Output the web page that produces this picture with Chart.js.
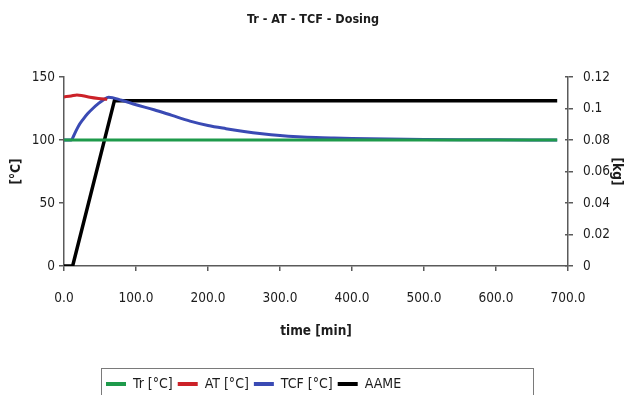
<!DOCTYPE html>
<html>
<head>
<meta charset="utf-8">
<script src="https://cdn.jsdelivr.net/npm/chart.js@4.4.1/dist/chart.umd.min.js"></script>
<style>
  html, body { margin: 0; padding: 0; background: #ffffff; }
  canvas { display: block; }
</style>
</head>
<body>
<canvas id="chart" width="626" height="395"></canvas>
<script>
// Text and labels
const chartTitle = 'Tr - AT - TCF - Dosing';
const xTitle = 'time [min]';
const yTitle = '[°C]';
const y2Title = '[kg]';
const seriesNames = ['Tr [°C]', 'AT [°C]', 'TCF [°C]', 'AAME'];
const seriesColors = ['#1e9a4b', '#cc2128', '#3a4ab4', '#000000'];

// Axis ticks
const xTickValues = [0, 100, 200, 300, 400, 500, 600, 700];
const xTickLabels = ['0.0', '100.0', '200.0', '300.0', '400.0', '500.0', '600.0', '700.0'];
const yTickValues = [0, 50, 100, 150];
const yTickLabels = ['0', '50', '100', '150'];
const y2TickValues = [0, 0.02, 0.04, 0.06, 0.08, 0.1, 0.12];
const y2TickLabels = ['0', '0.02', '0.04', '0.06', '0.08', '0.1', '0.12'];

// Series: reactor temperature Tr [°C]
const trTime = [0, 685];
const trValues = [100, 100];

// Series: AT [°C]
const atTime = [0, 10, 18, 26, 36, 48, 60];
const atValues = [134.2, 135.0, 135.8, 135.2, 134.0, 133.0, 132.3];

// Series: TCF [°C]
const tcfTime = [0, 10, 14, 20, 26, 33, 40, 48, 55, 62, 80, 100, 125, 150, 175, 200, 225, 250, 275, 300, 325, 350, 375, 400, 450, 500, 550, 600, 685];
const tcfValues = [100, 100, 104, 111, 116, 121, 125, 129, 132, 134, 131.5, 128, 124, 119.5, 115, 111.5, 109, 106.8, 105, 103.6, 102.6, 101.9, 101.5, 101.2, 100.7, 100.4, 100.2, 100.1, 100];

// Series: dosed AAME [kg]
const aameTime = [0, 12, 70, 685];
const aameValues = [0, 0, 0.105, 0.105];

const FONT = "'Liberation Sans Narrow', 'DejaVu Sans Condensed', 'Arial Narrow', sans-serif";
const TEXT = '#1c1c1c';
const AXIS = '#5a5a5a';

function points(xs, ys) {
  return xs.map((x, i) => ({ x: x, y: ys[i] }));
}
function fixedTicks(values) {
  return scale => { scale.ticks = values.map(v => ({ value: v })); };
}
function labelFor(values, labels) {
  return value => {
    const i = values.findIndex(v => Math.abs(v - value) < 1e-9);
    return i >= 0 ? labels[i] : '';
  };
}

// Frame around the legend row
const legendFrame = {
  id: 'legendFrame',
  afterLayout(chart) {
    const lg = chart.legend;
    lg.left = 101;
    lg.right = 533;
    lg.top = 372;
    lg.bottom = 400;
  },
  afterDraw(chart) {
    const ctx = chart.ctx;
    ctx.save();
    ctx.strokeStyle = '#7a7a7a';
    ctx.lineWidth = 1;
    ctx.strokeRect(101.5, 368.5, 432, 40);
    ctx.restore();
  }
};

const tickFont = { family: FONT, size: 13.5 };
const axisTitleFont = { family: FONT, size: 13.5, weight: 'bold' };

new Chart(document.getElementById('chart'), {
  type: 'line',
  data: {
    datasets: [
      { label: seriesNames[0], data: points(trTime, trValues), borderColor: seriesColors[0], backgroundColor: seriesColors[0], borderWidth: 3, yAxisID: 'y' },
      { label: seriesNames[1], data: points(atTime, atValues), borderColor: seriesColors[1], backgroundColor: seriesColors[1], borderWidth: 3, yAxisID: 'y', cubicInterpolationMode: 'monotone' },
      { label: seriesNames[2], data: points(tcfTime, tcfValues), borderColor: seriesColors[2], backgroundColor: seriesColors[2], borderWidth: 3, yAxisID: 'y', cubicInterpolationMode: 'monotone' },
      { label: seriesNames[3], data: points(aameTime, aameValues), borderColor: seriesColors[3], backgroundColor: seriesColors[3], borderWidth: 3.5, yAxisID: 'y2' }
    ]
  },
  options: {
    responsive: false,
    animation: false,
    devicePixelRatio: 1,
    layout: { padding: 0 },
    elements: { point: { radius: 0, hoverRadius: 0 }, line: { borderCapStyle: 'butt', borderJoinStyle: 'miter' } },
    plugins: {
      tooltip: { enabled: false },
      title: {
        display: true,
        text: chartTitle,
        color: TEXT,
        font: { family: FONT, size: 12.5, weight: 'bold' },
        padding: { top: 12.5, bottom: 49.5 }
      },
      legend: {
        display: true,
        position: 'bottom',
        align: 'start',
        labels: {
          color: TEXT,
          font: { family: FONT, size: 14 },
          boxWidth: 20,
          boxHeight: 4,
          padding: 5,
          generateLabels(chart) {
            return Chart.defaults.plugins.legend.labels.generateLabels(chart)
              .map(item => Object.assign(item, { fillStyle: item.strokeStyle, lineWidth: 0 }));
          }
        }
      }
    },
    scales: {
      x: {
        type: 'linear',
        position: 'bottom',
        min: 0,
        max: 700,
        afterBuildTicks: fixedTicks(xTickValues),
        afterFit: s => { s.height = 100; },
        grid: { drawOnChartArea: false, drawTicks: true, tickLength: 5, color: AXIS, lineWidth: 1.5 },
        border: { display: true, color: AXIS, width: 1.5 },
        ticks: { color: TEXT, font: tickFont, padding: 19, maxRotation: 0, autoSkip: false, callback: labelFor(xTickValues, xTickLabels) },
        title: { display: true, text: xTitle, color: TEXT, font: axisTitleFont, padding: { top: 0, bottom: 26 } }
      },
      y: {
        type: 'linear',
        position: 'left',
        min: 0,
        max: 150,
        afterBuildTicks: fixedTicks(yTickValues),
        afterFit: s => { s.width = 64; },
        grid: { drawOnChartArea: false, drawTicks: true, tickLength: 5, color: AXIS, lineWidth: 1.5 },
        border: { display: true, color: AXIS, width: 1.5 },
        ticks: { color: TEXT, font: tickFont, padding: 4, autoSkip: false, callback: labelFor(yTickValues, yTickLabels) },
        title: { display: true, text: yTitle, color: TEXT, font: axisTitleFont, padding: { top: 8, bottom: 0 } }
      },
      y2inner: {
        type: 'linear',
        position: 'right',
        min: 0,
        max: 0.12,
        afterBuildTicks: fixedTicks(y2TickValues),
        afterFit: s => { s.width = 0; },
        grid: { drawOnChartArea: false, drawTicks: true, tickLength: -3, color: AXIS, lineWidth: 1.5 },
        border: { display: false },
        ticks: { display: false }
      },
      y2: {
        type: 'linear',
        position: 'right',
        min: 0,
        max: 0.12,
        afterBuildTicks: fixedTicks(y2TickValues),
        afterFit: s => { s.width = 58; },
        grid: { drawOnChartArea: false, drawTicks: true, tickLength: 5, color: AXIS, lineWidth: 1.5 },
        border: { display: true, color: AXIS, width: 1.5 },
        ticks: { color: TEXT, font: tickFont, padding: 10, autoSkip: false, callback: labelFor(y2TickValues, y2TickLabels) },
        title: { display: true, text: y2Title, color: TEXT, font: axisTitleFont, padding: { top: 1, bottom: 0 } }
      }
    }
  },
  plugins: [legendFrame]
});
</script>
</body>
</html>
